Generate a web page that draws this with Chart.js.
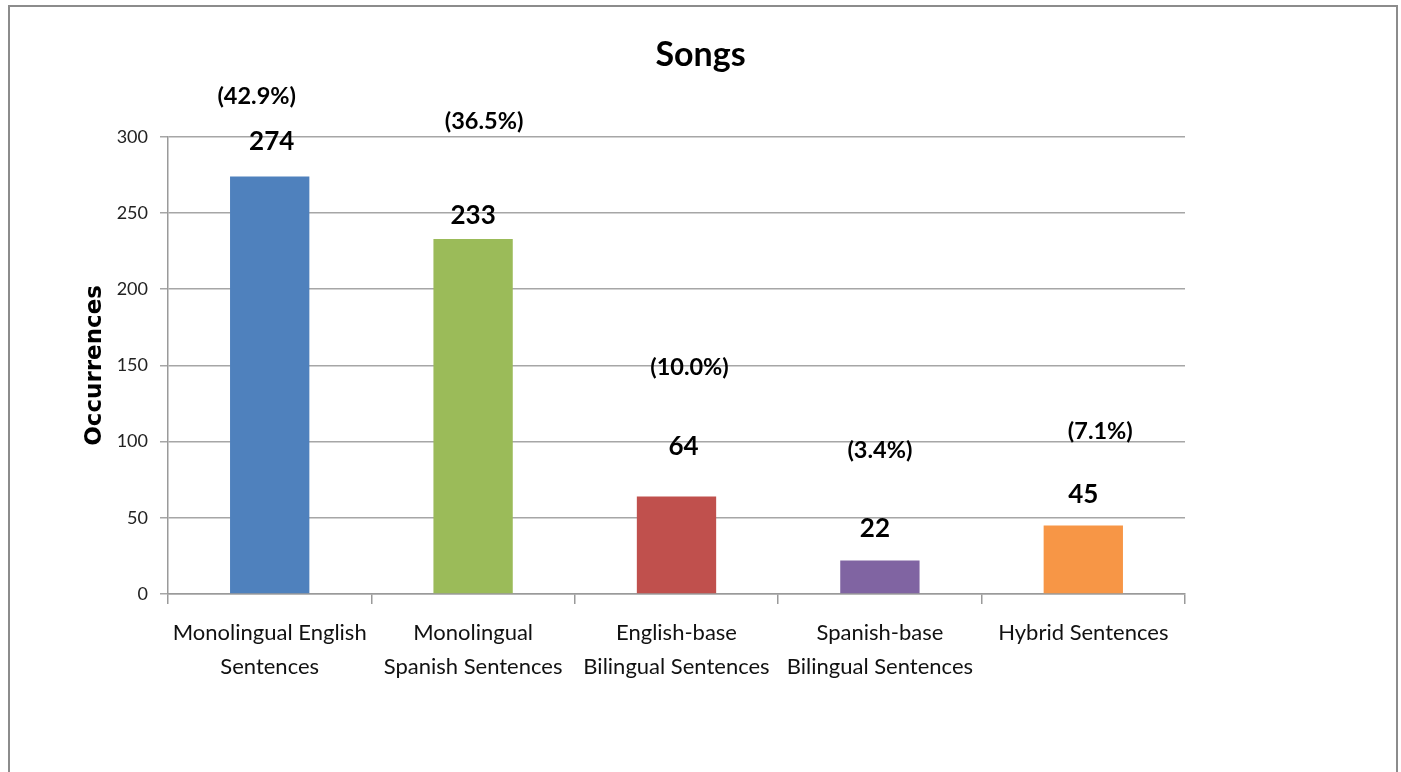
<!DOCTYPE html>
<html>
<head>
<meta charset="utf-8">
<script src="https://cdn.jsdelivr.net/npm/chart.js@4"></script>
<style>
    body { margin: 0; background: #fff; }
    #wrap { width: 1401px; height: 772px; }
</style>
</head>
<body>
<div id="wrap"><canvas id="myChart"></canvas></div>
<script>
let categories = [
    ['Monolingual English', 'Sentences'],
    ['Monolingual', 'Spanish Sentences'],
    ['English-base', 'Bilingual Sentences'],
    ['Spanish-base', 'Bilingual Sentences'],
    'Hybrid Sentences'
]
let occurrences = [274, 233, 64, 22, 45]
let percentages = ['(42.9%)', '(36.5%)', '(10.0%)', '(3.4%)', '(7.1%)']
let yTicks = [0, 50, 100, 150, 200, 250, 300]
let barColors = ['#4F81BD', '#9BBB59', '#C0504D', '#8064A2', '#F79646']

// label placement relative to the bar top, [dx, dy above]
let valueShift = [[2, 35], [0, 23], [7, 50], [-5, 32], [0, 31]]
let percentShift = [[-13, 80], [11, 117], [13, 129], [0, 110], [17, 94]]

let framePlugin = {
    id: 'frame',
    beforeDraw(chart) {
        let ctx = chart.ctx
        ctx.save()
        ctx.fillStyle = '#fff'
        ctx.fillRect(0, 0, chart.width, chart.height)
        ctx.strokeStyle = '#8c8c8c'
        ctx.lineWidth = 2
        ctx.strokeRect(9, 6, 1388, 790)
        ctx.restore()
    }
}

let labelPlugin = {
    id: 'barLabels',
    afterDatasetsDraw(chart) {
        let ctx = chart.ctx
        let meta = chart.getDatasetMeta(0)
        ctx.save()
        ctx.textAlign = 'center'
        ctx.textBaseline = 'middle'
        ctx.fillStyle = '#000'
        meta.data.forEach((bar, i) => {
            ctx.font = 'bold 26px Lato'
            ctx.fillText(occurrences[i], bar.x + valueShift[i][0], bar.y - valueShift[i][1])
            ctx.font = 'bold 23.5px Lato'
            ctx.fillText(percentages[i], bar.x + percentShift[i][0], bar.y - percentShift[i][1])
        })
        ctx.restore()
    }
}

let ctx = document.getElementById('myChart').getContext('2d')
let chart = new Chart(ctx, {
    type: 'bar',
    data: {
        labels: categories,
        datasets: [{
            data: occurrences,
            backgroundColor: barColors,
            borderWidth: 0,
            categoryPercentage: 1,
            barPercentage: 0.39
        }]
    },
    options: {
        responsive: true,
        maintainAspectRatio: false,
        animation: false,
        layout: { padding: 0 },
        plugins: {
            legend: { display: false },
            tooltip: { enabled: false },
            title: {
                display: true,
                text: 'Songs',
                color: '#000',
                font: { family: 'Lato', size: 34, weight: 'bold' },
                padding: { top: 35, bottom: 61 }
            }
        },
        scales: {
            x: {
                afterFit: scale => { scale.height = 178 },
                grid: {
                    display: true,
                    drawOnChartArea: false,
                    offset: true,
                    tickLength: 10,
                    color: '#9a9a9a',
                    lineWidth: 1.5
                },
                border: { color: '#9a9a9a', width: 1.5 },
                ticks: {
                    color: '#111',
                    padding: 12,
                    maxRotation: 0,
                    autoSkip: false,
                    font: { family: 'Lato', size: 22, lineHeight: 1.55 }
                }
            },
            y: {
                min: 0,
                max: 300,
                afterFit: scale => { scale.width = 168 },
                afterBuildTicks: scale => { scale.ticks = yTicks.map(v => ({ value: v })) },
                grid: { color: '#a6a6a6', lineWidth: 1.5, tickLength: 8 },
                border: { color: '#9a9a9a', width: 1.5 },
                ticks: {
                    color: '#222',
                    padding: 12,
                    font: { family: 'Lato', size: 18 }
                },
                title: {
                    display: true,
                    text: 'Occurrences',
                    color: '#000',
                    font: { family: 'DejaVu Sans', size: 23, weight: 'bold' },
                    padding: { top: 81, bottom: 0 }
                }
            },
            // empty right-hand margin so the title centres on the whole frame
            yRight: {
                position: 'right',
                min: 0,
                max: 300,
                afterFit: scale => { scale.width = 216 },
                grid: { display: false },
                border: { display: false },
                ticks: { display: false }
            }
        }
    },
    plugins: [framePlugin, labelPlugin]
})
</script>
</body>
</html>
